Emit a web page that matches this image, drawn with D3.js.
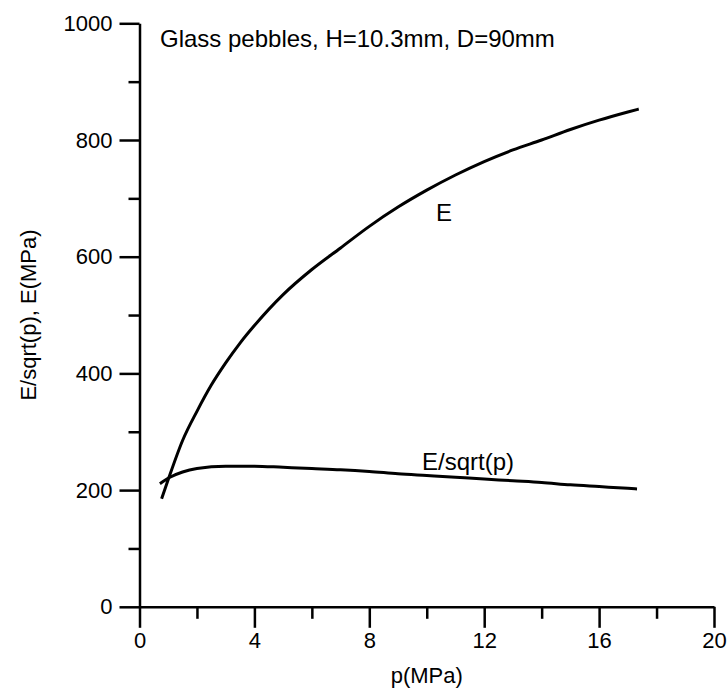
<!DOCTYPE html>
<html>
<head>
<meta charset="utf-8">
<script src="https://cdn.jsdelivr.net/npm/d3@7"></script>
<style>
  body { margin: 0; background: #fff; }
  svg text { font-family: "Liberation Sans", Arial, sans-serif; fill: #000; }
</style>
</head>
<body>
<div id="chart"></div>
<script>
// E curve (MPa) vs p (MPa)
const pE = [0.77, 1.0, 1.5, 2, 2.5, 3, 3.5, 4, 5, 6, 7, 8, 9, 10, 11, 12, 13, 14, 15, 16, 17, 17.38];
const eVals = [185, 218, 285, 335, 380, 418, 452, 482, 535, 578, 615, 652, 685, 714, 740, 763, 783, 800, 818, 834, 848, 853];

// E/sqrt(p) curve
const pR = [0.71, 1.06, 1.5, 2, 3, 4, 5, 6, 7, 8, 9, 10, 11, 12, 13, 14, 15, 16, 17, 17.32];
const rVals = [211, 222, 231, 237, 241, 241, 239, 237, 235, 232, 228, 225, 222, 219, 216, 213, 209, 206, 203, 202];

const xTicks = [0, 4, 8, 12, 16, 20];
const xMinor = [2, 6, 10, 14, 18];
const yTicks = [0, 200, 400, 600, 800, 1000];
const yMinor = [100, 300, 500, 700, 900];

const width = 727, height = 693;

const svg = d3.select("#chart")
  .append("svg")
  .attr("width", width)
  .attr("height", height);

const x = d3.scaleLinear().domain([0, 20]).range([139.5, 714]);
const y = d3.scaleLinear().domain([0, 1000]).range([606.8, 23.3]);

// minor ticks first, no labels
svg.append("g")
  .attr("transform", `translate(0,${y(0)})`)
  .call(d3.axisBottom(x).tickValues(xMinor).tickSize(12).tickFormat(""))
  .call(g => g.select(".domain").remove());

svg.append("g")
  .attr("transform", `translate(${x(0)},0)`)
  .call(d3.axisLeft(y).tickValues(yMinor).tickSize(11).tickFormat(""))
  .call(g => g.select(".domain").remove());

// major axes
svg.append("g")
  .attr("transform", `translate(0,${y(0)})`)
  .call(d3.axisBottom(x).tickValues(xTicks).tickFormat(d3.format("d"))
    .tickSize(21).tickSizeOuter(0).tickPadding(5));

svg.append("g")
  .attr("transform", `translate(${x(0)},0)`)
  .call(d3.axisLeft(y).tickValues(yTicks).tickFormat(d3.format("d"))
    .tickSize(20).tickSizeOuter(0).tickPadding(7));

svg.selectAll(".domain, .tick line")
  .attr("stroke", "#000")
  .attr("stroke-width", 2.5);

svg.selectAll(".tick text")
  .attr("font-size", 22)
  .attr("font-family", "Liberation Sans, Arial, sans-serif");

// curves
const line = d3.line()
  .x(d => x(d[0]))
  .y(d => y(d[1]))
  .curve(d3.curveMonotoneX);

svg.append("path")
  .datum(pE.map((p, i) => [p, eVals[i]]))
  .attr("d", line)
  .attr("fill", "none")
  .attr("stroke", "#000")
  .attr("stroke-width", 3);

svg.append("path")
  .datum(pR.map((p, i) => [p, rVals[i]]))
  .attr("d", line)
  .attr("fill", "none")
  .attr("stroke", "#000")
  .attr("stroke-width", 3);

// labels
svg.append("text")
  .attr("x", 160)
  .attr("y", 47)
  .attr("font-size", 24)
  .text("Glass pebbles, H=10.3mm, D=90mm");

svg.append("text")
  .attr("x", 444)
  .attr("y", 221)
  .attr("text-anchor", "middle")
  .attr("font-size", 24)
  .text("E");

svg.append("text")
  .attr("x", 422)
  .attr("y", 470)
  .attr("font-size", 24)
  .text("E/sqrt(p)");

svg.append("text")
  .attr("x", x(10))
  .attr("y", 683)
  .attr("text-anchor", "middle")
  .attr("font-size", 22)
  .text("p(MPa)");

svg.append("text")
  .attr("transform", `translate(28,${y(500)}) rotate(-90)`)
  .attr("dy", "0.35em")
  .attr("text-anchor", "middle")
  .attr("font-size", 22)
  .text("E/sqrt(p), E(MPa)");
</script>
</body>
</html>
